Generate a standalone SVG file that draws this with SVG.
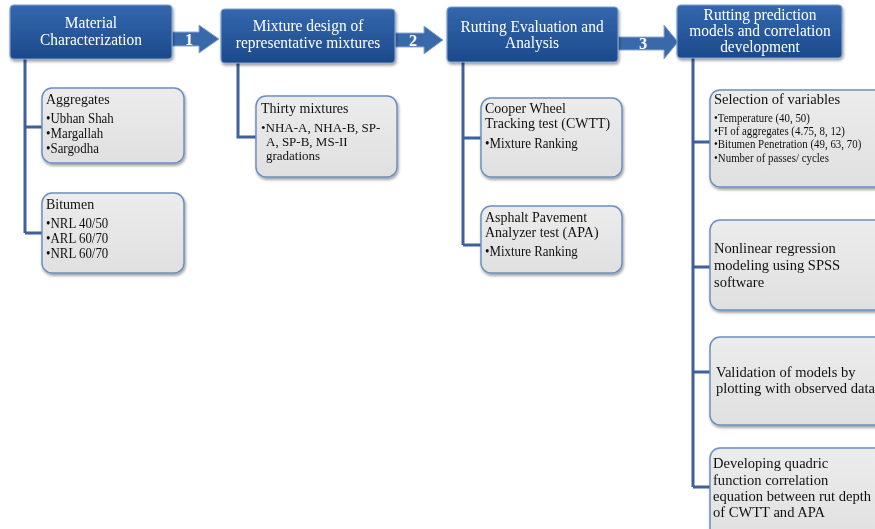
<svg xmlns="http://www.w3.org/2000/svg" width="875" height="529" viewBox="0 0 875 529">
<defs>
<linearGradient id="hg" x1="0" y1="0" x2="0" y2="1">
<stop offset="0" stop-color="#3467ad"/><stop offset="1" stop-color="#1c4a8b"/>
</linearGradient>
<linearGradient id="cg" x1="0" y1="0" x2="0" y2="1">
<stop offset="0" stop-color="#ececec"/><stop offset="1" stop-color="#e0e0e0"/>
</linearGradient>
<filter id="sh" x="-10%" y="-10%" width="120%" height="130%">
<feGaussianBlur in="SourceAlpha" stdDeviation="1.5"/><feOffset dx="1" dy="2" result="b"/>
<feComponentTransfer><feFuncA type="linear" slope="0.4"/></feComponentTransfer>
<feMerge><feMergeNode/><feMergeNode in="SourceGraphic"/></feMerge>
</filter>
</defs>
<style>
.hb{fill:url(#hg);stroke:#7a9fd2;stroke-width:1.2}
.ht{font-family:"Liberation Serif",serif;font-size:16.8px;fill:#fff;text-anchor:middle}
.ar{fill:#3a69aa;stroke:#8eabd6;stroke-width:1}
.an{font-family:"Liberation Serif",serif;font-size:16px;font-weight:bold;fill:#fff;text-anchor:middle}
.cb{fill:url(#cg);stroke:#6d8fc0;stroke-width:1.5}
.t{font-family:"Liberation Serif",serif;font-size:15.2px;fill:#111}
.b{font-family:"Liberation Serif",serif;font-size:14px;fill:#111}
.t2{font-family:"Liberation Serif",serif;font-size:14px;fill:#111}
.b2{font-family:"Liberation Serif",serif;font-size:13px;fill:#111}
.r{font-family:"Liberation Serif",serif;font-size:15.5px;fill:#111}
.s{font-family:"Liberation Serif",serif;font-size:11.6px;fill:#111}
.ln{fill:none;stroke:#3d6198;stroke-width:3}
</style>
<g id="connectors">
<path class="ln" d="M25 58V233M25 127H42M25 233H42"/>
<path class="ln" d="M238 63V137H256"/>
<path class="ln" d="M463 62V245M463 138H481M463 245H481"/>
<path class="ln" d="M693 58V487M693 142H710M693 267H710M693 372H710M693 487H710"/>
</g>
<g id="arrow1"><path class="ar" d="M172 32H199V25L219 39L199 53V46H172Z"/><text class="an" x="189" y="45">1</text></g>
<g id="arrow2"><path class="ar" d="M395 33H424V26L443 40L424 54V47H395Z"/><text class="an" x="413" y="46">2</text></g>
<g id="arrow3"><path class="ar" d="M618 37H664V25L678 42L664 59V50H618Z"/><text class="an" x="643" y="49">3</text></g>
<g id="h1" filter="url(#sh)"><rect class="hb" x="10" y="5" width="162" height="54" rx="4"/><g transform="translate(91 0) scale(0.92 1)"><text class="ht" x="0" y="28">Material</text><text class="ht" x="0" y="45">Characterization</text></g></g>
<g id="h2" filter="url(#sh)"><rect class="hb" x="221" y="9" width="174" height="54" rx="4"/><g transform="translate(308 0) scale(0.92 1)"><text class="ht" x="0" y="31">Mixture  design of</text><text class="ht" x="0" y="48">representative mixtures</text></g></g>
<g id="h3" filter="url(#sh)"><rect class="hb" x="447" y="7" width="171" height="55" rx="4"/><g transform="translate(532 0) scale(0.92 1)"><text class="ht" x="0" y="32">Rutting Evaluation and</text><text class="ht" x="0" y="48">Analysis</text></g></g>
<g id="h4" filter="url(#sh)"><rect class="hb" x="677" y="5" width="165" height="53" rx="4"/><g transform="translate(760 0) scale(0.92 1)"><text class="ht" x="0" y="20">Rutting prediction</text><text class="ht" x="0" y="36">models and correlation</text><text class="ht" x="0" y="52">development</text></g></g>
<g id="aggregates" filter="url(#sh)"><rect class="cb" x="42" y="88" width="142" height="75" rx="10"/><g transform="translate(46 0) scale(0.92 1)"><text class="t" x="0" y="104">Aggregates</text><text class="b" x="0" y="123">•Ubhan Shah</text><text class="b" x="0" y="138">•Margallah</text><text class="b" x="0" y="153">•Sargodha</text></g></g>
<g id="bitumen" filter="url(#sh)"><rect class="cb" x="42" y="193" width="142" height="80" rx="10"/><g transform="translate(46 0) scale(0.92 1)"><text class="t" x="0" y="209">Bitumen</text><text class="b" x="0" y="228">•NRL 40/50</text><text class="b" x="0" y="243">•ARL 60/70</text><text class="b" x="0" y="258">•NRL 60/70</text></g></g>
<g id="thirty" filter="url(#sh)"><rect class="cb" x="256" y="96" width="141" height="81" rx="10"/><text class="t2" x="261" y="112.5">Thirty mixtures</text><text class="b2" x="261" y="132">•NHA-A, NHA-B, SP-</text><text class="b2" x="266" y="146">A, SP-B, MS-II</text><text class="b2" x="266" y="160">gradations</text></g>
<g id="cwtt" filter="url(#sh)"><rect class="cb" x="481" y="98" width="141" height="79" rx="10"/><g transform="translate(485 0) scale(0.92 1)"><text class="t" x="0" y="113">Cooper Wheel</text><text class="t" x="0" y="128">Tracking test (CWTT)</text><text class="b" x="0" y="148">•Mixture Ranking</text></g></g>
<g id="apa" filter="url(#sh)"><rect class="cb" x="481" y="206" width="141" height="67" rx="10"/><g transform="translate(485 0) scale(0.92 1)"><text class="t" x="0" y="222">Asphalt Pavement</text><text class="t" x="0" y="237">Analyzer test (APA)</text><text class="b" x="0" y="256">•Mixture Ranking</text></g></g>
<g id="selection" filter="url(#sh)"><rect class="cb" x="710" y="90" width="175" height="97" rx="10"/><g transform="translate(714 0) scale(0.94 1)"><text class="r" x="0" y="104">Selection of variables</text><text class="s" x="0" y="122">•Temperature (40, 50)</text><text class="s" x="0" y="135">•FI of aggregates (4.75, 8, 12)</text><text class="s" x="0" y="148">•Bitumen  Penetration (49, 63, 70)</text><text class="s" x="0" y="162">•Number of passes/ cycles</text></g></g>
<g id="nonlinear" filter="url(#sh)"><rect class="cb" x="710" y="220" width="175" height="90" rx="10"/><g transform="translate(714 0) scale(0.94 1)"><text class="r" x="0" y="253">Nonlinear regression</text><text class="r" x="0" y="270">modeling using SPSS</text><text class="r" x="0" y="287">software</text></g></g>
<g id="validation" filter="url(#sh)"><rect class="cb" x="710" y="337" width="175" height="88" rx="10"/><g transform="translate(716 0) scale(0.94 1)"><text class="r" x="0" y="377">Validation of models by</text><text class="r" x="0" y="393">plotting with observed data</text></g></g>
<g id="developing" filter="url(#sh)"><rect class="cb" x="710" y="448" width="175" height="95" rx="10"/><g transform="translate(713 0) scale(0.94 1)"><text class="r" x="0" y="468">Developing quadric</text><text class="r" x="0" y="485">function correlation</text><text class="r" x="0" y="501">equation between rut depth</text><text class="r" x="0" y="517">of CWTT and APA</text></g></g>
</svg>
